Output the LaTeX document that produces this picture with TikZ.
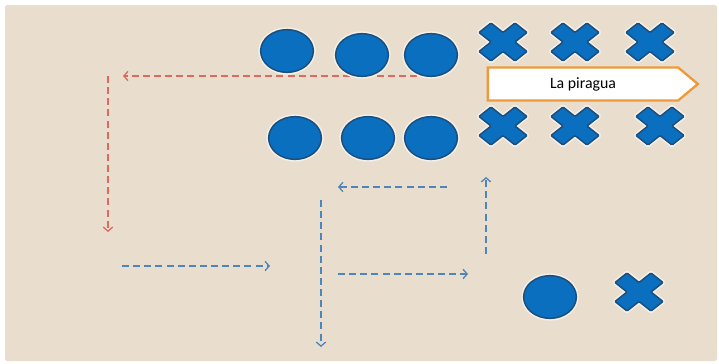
\documentclass[tikz,border=0pt]{standalone}
\usepackage{fontspec}
\setmainfont{Carlito}
\usetikzlibrary{arrows,arrows.meta}
\usetikzlibrary{shapes}
\usetikzlibrary{positioning}

\definecolor{sand}{HTML}{E9DDCD}
\definecolor{ballblue}{HTML}{0A6FBE}
\definecolor{balledge}{HTML}{1B4F80}
\definecolor{redtrail}{HTML}{DD6A5E}
\definecolor{bluetrail}{HTML}{4D86BC}
\definecolor{boatedge}{HTML}{EF9A3A}

\begin{document}
\begin{tikzpicture}[x=0.03cm,y=-0.03cm,>={Straight Barb[length=3.5pt,width=8pt]},
  ball/.style={ellipse,draw=balledge,fill=ballblue,line width=1.3pt,
    minimum width=1.58cm,minimum height=1.28cm,inner sep=0pt,
    preaction={draw=white!55!sand,line width=4pt}},
  cross/.style={draw=balledge,fill=ballblue,line width=1.3pt,rounded corners=0.8pt,
    preaction={draw=white!55!sand,line width=4pt}},
  xmark/.pic={
    \draw[cross,xscale=24,yscale=19] (0,0.5) -- (0.5,1) -- (1,0.5) -- (0.5,0)
      -- (1,-0.5) -- (0.5,-1) -- (0,-0.5) -- (-0.5,-1) -- (-1,-0.5)
      -- (-0.5,0) -- (-1,0.5) -- (-0.5,1) -- cycle;
    \coordinate (-c) at (0,0);},
  trail/.style={dash pattern=on 6pt off 3.5pt,line width=1.1pt},
  redtrail/.style={trail,draw=redtrail},
  bluetrail/.style={trail,draw=bluetrail},
  boat/.style={signal,signal to=east,signal pointer angle=80,draw=boatedge,
    fill=white,line width=2pt,minimum width=6.3cm,minimum height=0.99cm,
    font=\fontsize{13.5}{16}\selectfont}]

% background
\fill[white] (0,0) rectangle (719,364);
\fill[sand,rounded corners=2pt] (5,5) rectangle (717,361);
\useasboundingbox (0,0) rectangle (719,364);

% paths
\coordinate (r0) at (417,76);
\coordinate (r1) at (123,76);
\coordinate (r2) at (108,76);
\coordinate (r3) at (108,232);
\draw[redtrail,->] (r0) -- (r1);
\draw[redtrail,->] (r2) -- (r3);

\coordinate (b1s) at (122,266);
\coordinate (b1e) at (270,266);
\coordinate (b2s) at (321,200);
\coordinate (b2e) at (321,347);
\coordinate (b3s) at (447,187);
\coordinate (b3e) at (338,187);
\coordinate (b4s) at (338,274);
\coordinate (b4e) at (468,274);
\coordinate (b5s) at (486,254);
\coordinate (b5e) at (486,177);
\draw[bluetrail,->] (b1s) -- (b1e);
\draw[bluetrail,->] (b2s) -- (b2e);
\draw[bluetrail,->] (b3s) -- (b3e);
\draw[bluetrail,->] (b4s) -- (b4e);
\draw[bluetrail,->] (b5s) -- (b5e);

% balls
\node[ball] (o1) at (287,51) {};
\node[ball] (o2) at (362,55) {};
\node[ball] (o3) at (431,55) {};
\node[ball] (o4) at (295,138) {};
\node[ball] (o5) at (368,138) {};
\node[ball] (o6) at (431,138) {};
\node[ball] (o7) at (550,297) {};

% crosses
\pic (x1) at (503,42) {xmark};
\pic (x2) at (575,42) {xmark};
\pic (x3) at (650,42) {xmark};
\pic (x4) at (503,126) {xmark};
\pic (x5) at (575,126) {xmark};
\pic (x6) at (660,126) {xmark};
\pic (x7) at (639,292) {xmark};

\node[boat] (canoe) at (583,84) {La piragua};
\end{tikzpicture}
\end{document}
